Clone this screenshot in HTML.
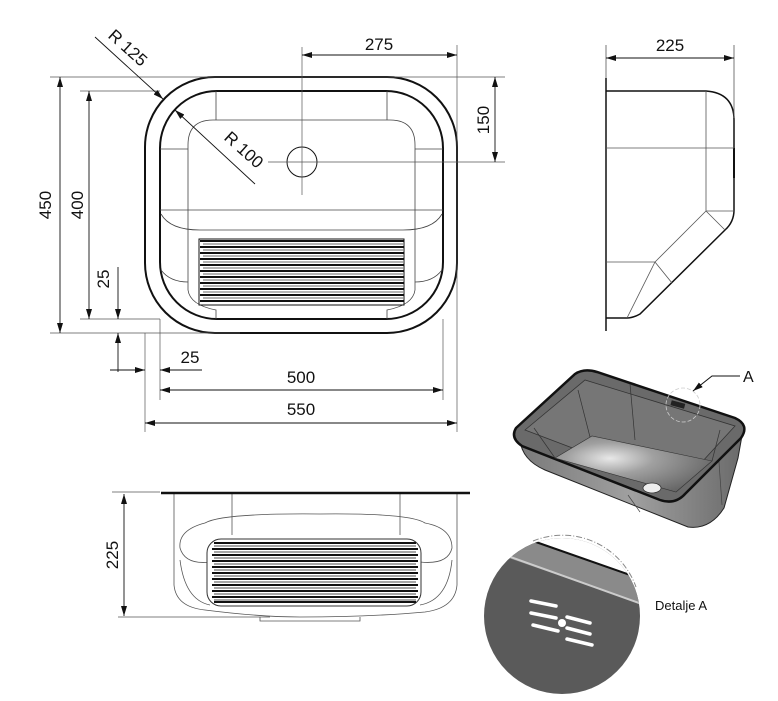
<!DOCTYPE html>
<html><head><meta charset="utf-8"><style>
html,body{margin:0;padding:0;background:#fff;}
svg{display:block;}
text{font-family:"Liberation Sans",sans-serif;fill:#111;}
</style></head><body>
<svg width="778" height="701" viewBox="0 0 778 701" xmlns="http://www.w3.org/2000/svg">
<defs>
<marker id="ar" viewBox="0 0 10 6" refX="10" refY="3" markerWidth="10" markerHeight="6" orient="auto-start-reverse" markerUnits="userSpaceOnUse">
<path d="M0,0 L10,3 L0,6 z" fill="#111"/></marker>
<radialGradient id="fl" cx="0.35" cy="0.4" r="0.7"><stop offset="0" stop-color="#e8e8e8"/><stop offset="0.4" stop-color="#a0a0a0"/><stop offset="1" stop-color="#666"/></radialGradient>
<linearGradient id="bd" x1="0" y1="0" x2="1" y2="0"><stop offset="0" stop-color="#7a7a7a"/><stop offset="0.5" stop-color="#a0a0a0"/><stop offset="1" stop-color="#6a6a6a"/></linearGradient>
<clipPath id="dc"><circle cx="562" cy="616" r="78"/></clipPath>
</defs>

<!-- TOP VIEW -->
<g fill="none" stroke="#111">
<rect x="145" y="77" width="312" height="256" rx="70" stroke-width="2"/>
<rect x="160" y="91" width="283" height="228" rx="57" stroke-width="2"/>
<g stroke-width="0.8" stroke="#444">
<line x1="216" y1="91" x2="216" y2="120"/><line x1="387" y1="91" x2="387" y2="120"/>
<line x1="160" y1="149" x2="188" y2="149"/><line x1="415" y1="149" x2="443" y2="149"/>
<path d="M188,149 L188,145 Q188,120 213,120 L390,120 Q415,120 415,145 L415,149"/>
<line x1="188" y1="149" x2="188" y2="290"/><line x1="415" y1="149" x2="415" y2="290"/>
<line x1="160" y1="210" x2="443" y2="210"/>
<path d="M161,214 Q170,230 200,230 L403,230 Q433,230 442,214"/>
<path d="M161,270 Q170,282 188,282"/><path d="M415,282 Q433,282 442,270"/>
<path d="M188,290 Q190,305 216,310 L216,319"/><path d="M415,290 Q413,305 387,310 L387,319"/>
</g>
<circle cx="302" cy="162" r="15" stroke-width="1"/>
</g>
<!-- washboard -->
<g stroke="#111">
<rect x="199" y="239" width="205" height="66" fill="#fff" stroke-width="1"/>
<g stroke-width="2">
<line x1="200" y1="241" x2="404" y2="241"/><line x1="200" y1="247" x2="404" y2="247"/><line x1="200" y1="253" x2="404" y2="253"/><line x1="200" y1="259" x2="404" y2="259"/><line x1="200" y1="265" x2="404" y2="265"/><line x1="200" y1="271" x2="404" y2="271"/><line x1="200" y1="277" x2="404" y2="277"/><line x1="200" y1="283" x2="404" y2="283"/><line x1="200" y1="289" x2="404" y2="289"/><line x1="200" y1="295" x2="404" y2="295"/><line x1="200" y1="301" x2="404" y2="301"/>
</g>
<g stroke-width="1.3" stroke="#888">
<line x1="203" y1="244" x2="404" y2="244"/><line x1="203" y1="250" x2="404" y2="250"/><line x1="203" y1="256" x2="404" y2="256"/><line x1="203" y1="262" x2="404" y2="262"/><line x1="203" y1="268" x2="404" y2="268"/><line x1="203" y1="274" x2="404" y2="274"/><line x1="203" y1="280" x2="404" y2="280"/><line x1="203" y1="286" x2="404" y2="286"/><line x1="203" y1="292" x2="404" y2="292"/><line x1="203" y1="298" x2="404" y2="298"/>
</g>
</g>
<!-- extension / center lines -->
<g stroke="#555" stroke-width="0.7" fill="none">
<line x1="302" y1="47" x2="302" y2="195"/>
<line x1="268" y1="162" x2="505" y2="162"/>
<line x1="457" y1="45" x2="457" y2="432"/>
<line x1="50" y1="77" x2="505" y2="77"/>
<line x1="50" y1="333" x2="240" y2="333"/>
<line x1="80" y1="91" x2="160" y2="91"/>
<line x1="80" y1="319" x2="160" y2="319"/>
<line x1="145" y1="333" x2="145" y2="432"/>
<line x1="160" y1="319" x2="160" y2="400"/>
<line x1="443" y1="319" x2="443" y2="400"/>
</g>
<g stroke="#111" stroke-width="0.9" fill="none">
<line x1="302" y1="55" x2="457" y2="55" marker-start="url(#ar)" marker-end="url(#ar)"/>
<line x1="495" y1="77" x2="495" y2="162" marker-start="url(#ar)" marker-end="url(#ar)"/>
<line x1="60" y1="77" x2="60" y2="333" marker-start="url(#ar)" marker-end="url(#ar)"/>
<line x1="89" y1="91" x2="89" y2="319" marker-start="url(#ar)" marker-end="url(#ar)"/>
<line x1="118" y1="267" x2="118" y2="319" marker-end="url(#ar)"/>
<line x1="118" y1="372" x2="118" y2="333" marker-end="url(#ar)"/>
<line x1="110" y1="370" x2="145" y2="370" marker-end="url(#ar)"/>
<line x1="202" y1="370" x2="160" y2="370" marker-end="url(#ar)"/>
<line x1="160" y1="390" x2="443" y2="390" marker-start="url(#ar)" marker-end="url(#ar)"/>
<line x1="145" y1="423" x2="457" y2="423" marker-start="url(#ar)" marker-end="url(#ar)"/>
<line x1="95" y1="37" x2="163" y2="99" marker-end="url(#ar)"/>
<line x1="255" y1="184" x2="175" y2="110" marker-end="url(#ar)"/>
</g>
<g font-size="17">
<text x="379" y="50" text-anchor="middle">275</text>
<text transform="translate(489,120) rotate(-90)" text-anchor="middle">150</text>
<text transform="translate(51,205) rotate(-90)" text-anchor="middle">450</text>
<text transform="translate(83,205) rotate(-90)" text-anchor="middle">400</text>
<text transform="translate(109,279) rotate(-90)" text-anchor="middle">25</text>
<text x="190" y="363" text-anchor="middle">25</text>
<text x="301" y="383" text-anchor="middle">500</text>
<text x="301" y="415" text-anchor="middle">550</text>
<text transform="translate(124,52) rotate(42)" text-anchor="middle">R 125</text>
<text transform="translate(240,154) rotate(42)" text-anchor="middle">R 100</text>
<text x="670" y="51" text-anchor="middle">225</text>
<text transform="translate(118,555) rotate(-90)" text-anchor="middle">225</text>
</g>

<!-- SIDE VIEW -->
<g fill="none" stroke="#111">
<line x1="606" y1="78" x2="606" y2="331" stroke-width="1.5"/>
<path d="M606,91 L706,91 Q734,93 734,120 L734,210 Q734,222 725,230 L640,314 Q633,318 627,318 L606,318" stroke-width="1.5"/>
<line x1="734" y1="148" x2="734" y2="178" stroke-width="2"/>
<g stroke="#555" stroke-width="0.8">
<line x1="606" y1="148" x2="734" y2="148"/>
<line x1="706" y1="91" x2="706" y2="211"/>
<line x1="706" y1="211" x2="734" y2="211"/>
<line x1="706" y1="211" x2="725" y2="230"/>
<line x1="706" y1="211" x2="655" y2="262"/>
<line x1="655" y1="262" x2="672" y2="283"/>
<line x1="655" y1="262" x2="627" y2="318"/>
<line x1="606" y1="262" x2="655" y2="262"/>
<line x1="606" y1="45" x2="606" y2="78"/>
<line x1="734" y1="45" x2="734" y2="118"/>
</g>
<line x1="606" y1="58" x2="734" y2="58" stroke-width="0.9" marker-start="url(#ar)" marker-end="url(#ar)"/>
</g>

<!-- FRONT VIEW -->
<g fill="none" stroke="#555" stroke-width="0.8">
<line x1="112" y1="492" x2="160" y2="492"/>
<line x1="118" y1="617" x2="270" y2="617"/>
<path d="M174,494 L174,585 Q176,607 205,610 Q260,617 300,617 Q370,617 425,612 Q455,608 457,585 L457,494"/>
<line x1="232" y1="494" x2="232" y2="535"/><line x1="400" y1="494" x2="400" y2="535"/>
<path d="M205,523 Q178,530 180,548 Q185,565 210,562"/>
<path d="M420,562 Q448,565 452,548 Q452,528 425,523 Q410,513 320,514 Q222,513 205,523"/>
<path d="M180,560 Q185,600 210,605"/><path d="M452,560 Q448,600 420,605"/>
<path d="M260,617 L260,621 L360,621 L360,617"/>
</g>
<line x1="161" y1="493" x2="470" y2="493" stroke="#111" stroke-width="2.5"/>
<line x1="124" y1="494" x2="124" y2="616" stroke="#111" stroke-width="0.9" marker-start="url(#ar)" marker-end="url(#ar)"/>
<g>
<rect x="207" y="539" width="214" height="67" rx="14" fill="#fff" stroke="#333" stroke-width="1"/>
<g stroke="#111" stroke-width="2">
<line x1="214" y1="543" x2="416" y2="543"/><line x1="212" y1="549" x2="418" y2="549"/><line x1="212" y1="555" x2="418" y2="555"/><line x1="212" y1="561" x2="418" y2="561"/><line x1="212" y1="567" x2="418" y2="567"/><line x1="212" y1="573" x2="418" y2="573"/><line x1="212" y1="579" x2="418" y2="579"/><line x1="212" y1="585" x2="418" y2="585"/><line x1="212" y1="591" x2="418" y2="591"/><line x1="212" y1="597" x2="418" y2="597"/><line x1="214" y1="602" x2="416" y2="602"/>
</g>
<g stroke="#888" stroke-width="1.4">
<line x1="214" y1="546" x2="416" y2="546"/><line x1="214" y1="552" x2="416" y2="552"/><line x1="214" y1="558" x2="416" y2="558"/><line x1="214" y1="564" x2="416" y2="564"/><line x1="214" y1="570" x2="416" y2="570"/><line x1="214" y1="576" x2="416" y2="576"/><line x1="214" y1="582" x2="416" y2="582"/><line x1="214" y1="588" x2="416" y2="588"/><line x1="214" y1="594" x2="416" y2="594"/><line x1="214" y1="600" x2="416" y2="600"/>
</g>
</g>

<!-- 3D RENDER -->
<path d="M520,440 Q522,460 545,470 L688,527 Q710,530 724,508 L738,458 L743,430 Z" fill="url(#bd)" stroke="#222" stroke-width="1"/>
<g stroke="#444" stroke-width="0.7" fill="none">
<line x1="628" y1="495" x2="640" y2="512"/><line x1="718" y1="448" x2="722" y2="505"/>
</g>
<path d="M516,428 Q510,438 522,446 L660,500 Q675,505 685,494 L741,438 Q750,425 735,418 L597,372 Q584,368 575,374 Z" fill="#6a6a6a" stroke="#111" stroke-width="2.5"/>
<path d="M525,430 L585,380 L735,426 L678,488 Z" fill="#767676" stroke="#333" stroke-width="0.8"/>
<path d="M555,458 L592,436 L712,461 L676,492 Z" fill="url(#fl)" stroke="#333" stroke-width="0.6"/>
<g stroke="#333" stroke-width="0.7" fill="none">
<line x1="578" y1="390" x2="590" y2="437"/><line x1="630" y1="384" x2="635" y2="440"/>
<line x1="720" y1="430" x2="712" y2="461"/><line x1="534" y1="428" x2="555" y2="458"/>
</g>
<ellipse cx="652" cy="488" rx="9" ry="5" fill="#eee" stroke="#333" stroke-width="0.8"/>
<circle cx="683" cy="405" r="17" fill="none" stroke="#ccc" stroke-width="0.8" stroke-dasharray="4,2"/>
<rect x="671" y="402" width="14" height="5" fill="#222" transform="rotate(15 678 404)"/>
<polyline points="740,376 712,376 693,391" fill="none" stroke="#111" stroke-width="1" marker-end="url(#ar)"/>
<text x="743" y="382" font-size="16">A</text>

<!-- DETAIL A -->
<g clip-path="url(#dc)">
<rect x="480" y="530" width="170" height="170" fill="#5a5a5a"/>
<polygon points="480,530 650,530 650,582 533,540 480,522" fill="#fff"/>
<polygon points="480,545 533,540 650,582 650,607 480,548" fill="#8a8a8a"/>
<line x1="533" y1="541" x2="650" y2="582" stroke="#111" stroke-width="2"/>
<line x1="505" y1="555" x2="650" y2="607" stroke="#ccc" stroke-width="2"/>
<g stroke="#fff" stroke-width="3.5" stroke-linecap="round">
<line x1="531" y1="601" x2="556" y2="606"/><line x1="531" y1="613" x2="556" y2="618"/><line x1="533" y1="625" x2="558" y2="631"/>
<line x1="567" y1="617" x2="590" y2="623"/><line x1="567" y1="628" x2="590" y2="634"/><line x1="567" y1="639" x2="592" y2="645"/>
</g>
<circle cx="562" cy="623" r="4" fill="#fff"/>
</g>
<path d="M533,541 A78,78 0 0 1 636,587" fill="none" stroke="#888" stroke-width="1" stroke-dasharray="6,2,1,2"/>
<text x="655" y="610" font-size="13">Detalje A</text>
</svg>
</body></html>
